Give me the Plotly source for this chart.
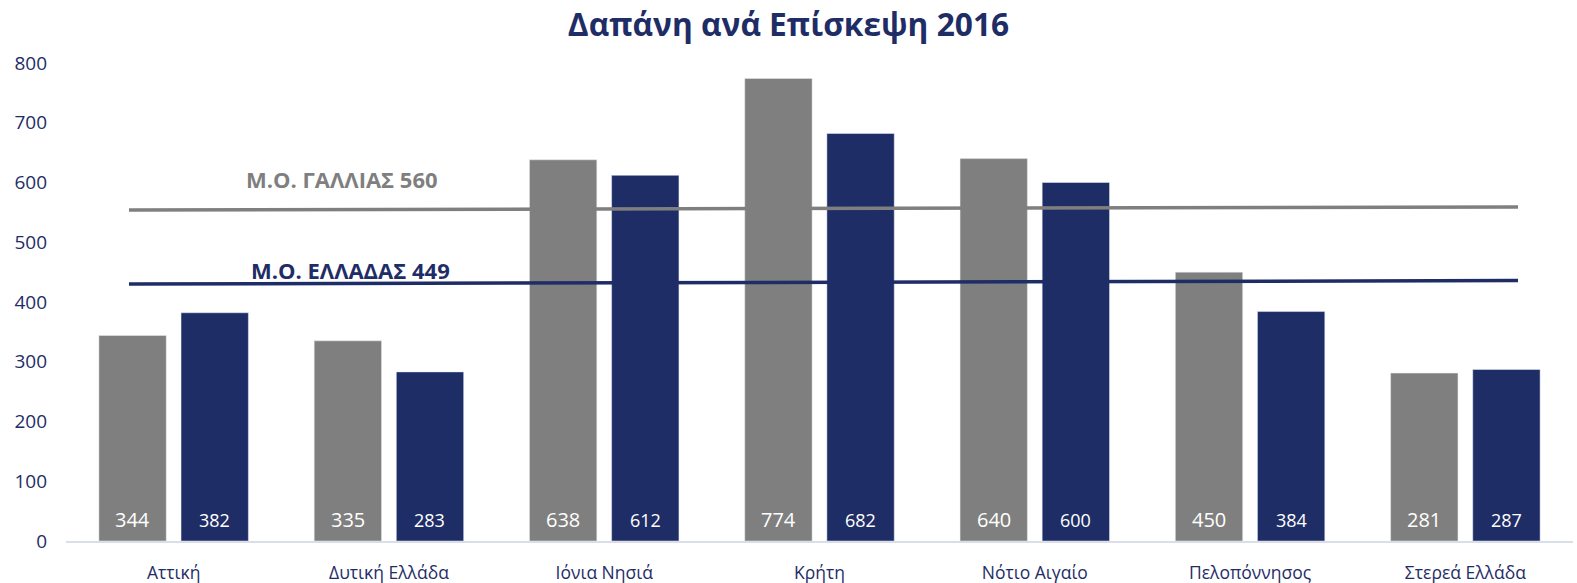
import plotly.graph_objects as go

categories = ["Αττική", "Δυτική Ελλάδα", "Ιόνια Νησιά", "Κρήτη", "Νότιο Αιγαίο", "Πελοπόννησος", "Στερεά Ελλάδα"]
france = [344, 335, 638, 774, 640, 450, 281]
greece = [382, 283, 612, 682, 600, 384, 287]
# average reference lines as drawn in the picture (start, end values)
france_avg_line = [554, 559]
greece_avg_line = [430, 436]
france_avg_label = "Μ.Ο. ΓΑΛΛΙΑΣ 560"
greece_avg_label = "Μ.Ο. ΕΛΛΑΔΑΣ 449"
y_ticks = [0, 100, 200, 300, 400, 500, 600, 700, 800]

GRAY = "#7F7F7F"
NAVY = "#1F2D66"
FONT = "Open Sans"

fig = go.Figure()
fig.add_trace(go.Bar(x=categories, y=france, name="Γαλλία", marker_color=GRAY))
fig.add_trace(go.Bar(x=categories, y=greece, name="Ελλάδα", marker_color=NAVY))

# value labels near the base of each bar
for cat, v in zip(categories, france):
    fig.add_annotation(x=cat, y=0, text=str(v), showarrow=False, xref="x", yref="y",
                       xanchor="center", yanchor="middle", xshift=-41, yshift=22,
                       font=dict(family=FONT, size=20, color="white"))
for cat, v in zip(categories, greece):
    fig.add_annotation(x=cat, y=0, text=str(v), showarrow=False, xref="x", yref="y",
                       xanchor="center", yanchor="middle", xshift=41, yshift=21,
                       font=dict(family=FONT, size=18, color="white"))

fig.add_shape(type="line", xref="paper", yref="y", x0=0.0418, x1=0.9635,
              y0=france_avg_line[0], y1=france_avg_line[1],
              line=dict(color=GRAY, width=3.5), layer="above")
fig.add_shape(type="line", xref="paper", yref="y", x0=0.0418, x1=0.9635,
              y0=greece_avg_line[0], y1=greece_avg_line[1],
              line=dict(color=NAVY, width=3.5), layer="above")

fig.add_annotation(text=france_avg_label, xref="paper", yref="paper",
                   x=(342 - 66) / 1507, y=(541 - 179) / 478, showarrow=False,
                   xanchor="center", yanchor="middle",
                   font=dict(family=FONT, size=22, color=GRAY, weight="bold"))
fig.add_annotation(text=greece_avg_label, xref="paper", yref="paper",
                   x=(350 - 66) / 1507, y=(541 - 270) / 478, showarrow=False,
                   xanchor="center", yanchor="middle",
                   font=dict(family=FONT, size=22, color=NAVY, weight="bold"))

fig.update_layout(
    width=1577, height=583,
    margin=dict(l=66, r=4, t=63, b=42, autoexpand=False),
    paper_bgcolor="white", plot_bgcolor="white",
    title=dict(text="<b>Δαπάνη ανά Επίσκεψη 2016</b>", x=0.5, xanchor="center",
               y=1 - 25 / 583, yanchor="middle",
               font=dict(family=FONT, size=31.7, color=NAVY)),
    showlegend=False,
    barmode="group", bargap=0.237, bargroupgap=0.18,
    font=dict(family=FONT, color=NAVY),
)
fig.update_xaxes(showgrid=False, showline=True, linecolor="#D9DEE8", linewidth=2,
                 tickfont=dict(family=FONT, size=17.5, color=NAVY), ticks="",
                 ticklabelstandoff=15, automargin=False)
fig.update_yaxes(range=[0, 800], tickvals=y_ticks, showgrid=False, zeroline=False,
                 showline=False, tickfont=dict(family=FONT, size=19, color=NAVY),
                 ticks="", ticklabelstandoff=18, automargin=False)

fig.write_html("out.html", config={"displayModeBar": False},
               post_script="document.body.style.margin='0';")
